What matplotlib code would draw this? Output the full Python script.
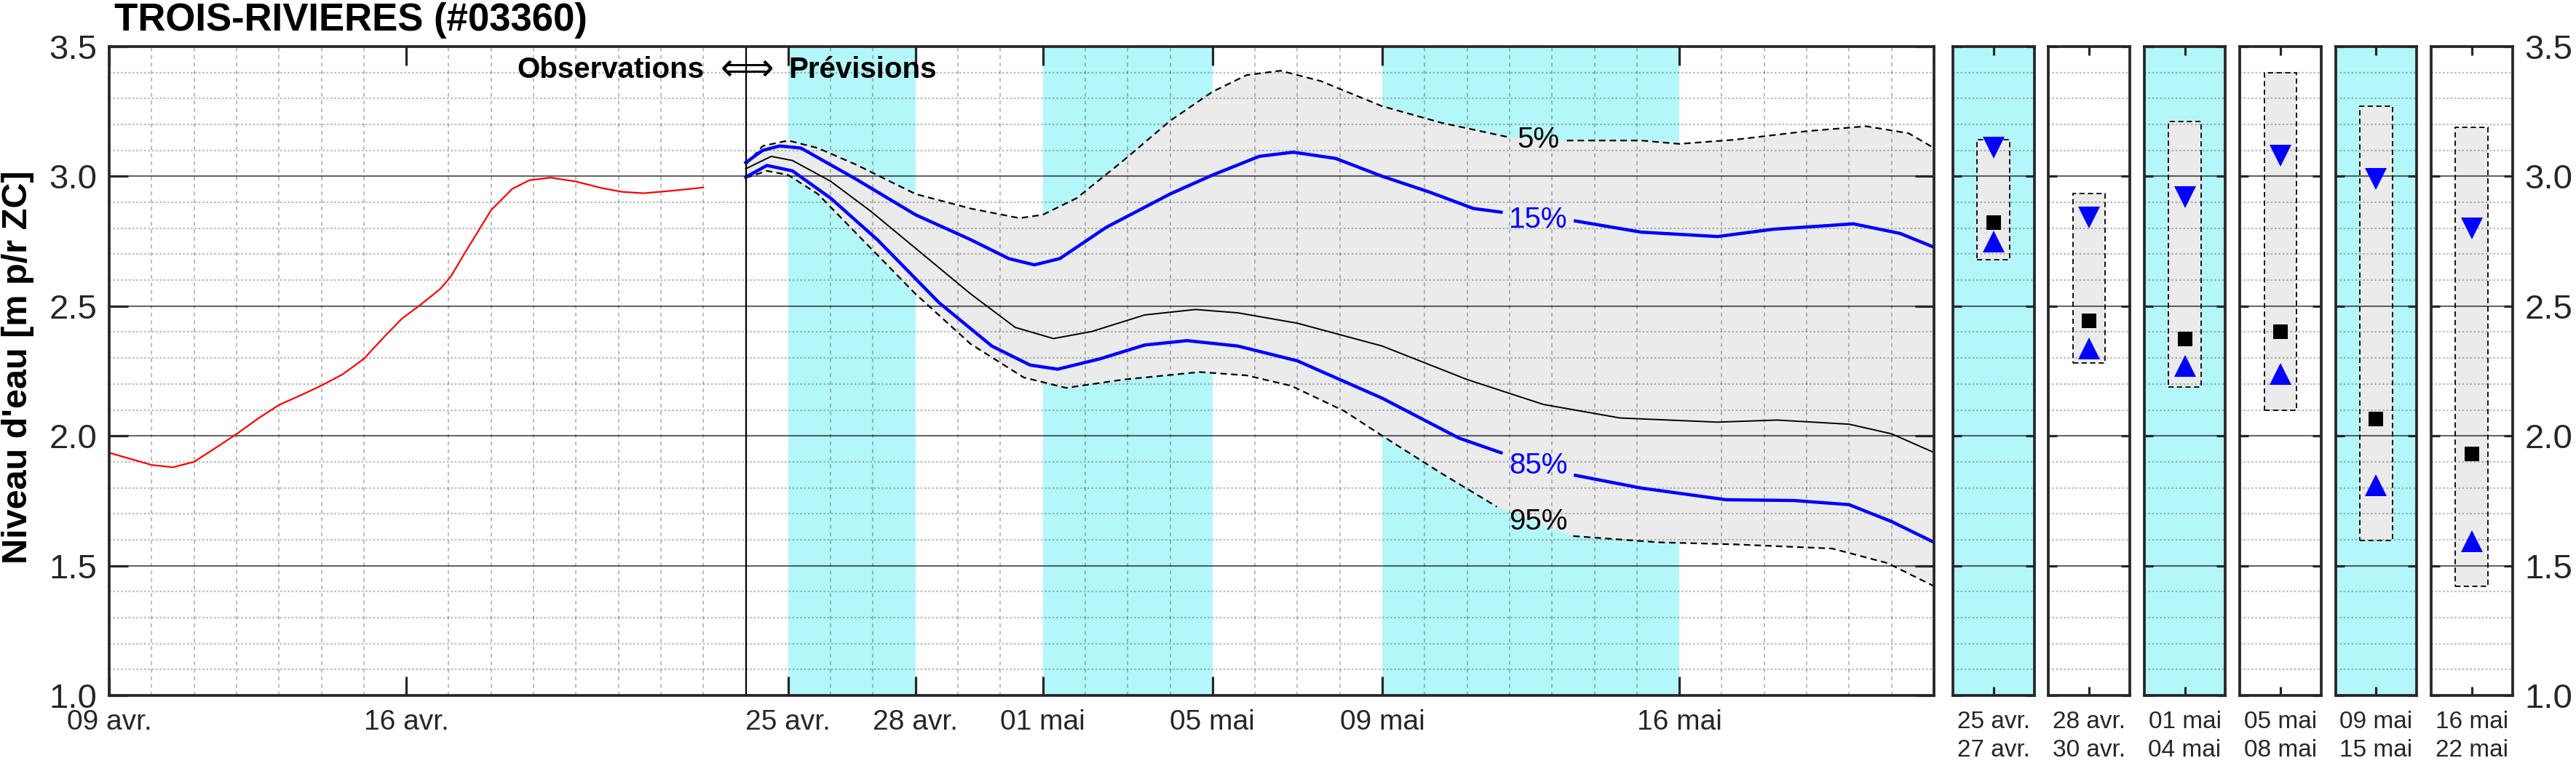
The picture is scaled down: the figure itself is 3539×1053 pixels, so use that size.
import numpy as np
import matplotlib
matplotlib.use("Agg")
import matplotlib.pyplot as plt
from matplotlib.ticker import MultipleLocator, FixedLocator, FormatStrFormatter

plt.rcParams['font.family'] = ['Liberation Sans', 'DejaVu Sans']

# days counted from 09 avr. (day 0) up to 22 mai (day 43)
obs_day = [0, 1.0, 1.5, 2.0, 2.5, 3.0, 3.5, 4.0, 4.6, 5.0, 5.5, 6.0, 6.5, 6.9, 7.35,
           7.8, 8.05, 8.4, 9.0, 9.5, 9.9, 10.4, 11.0, 11.6, 12.1, 12.6, 13.3, 14.0]
obs_level = [1.935, 1.888, 1.879, 1.900, 1.953, 2.007, 2.066, 2.119, 2.163, 2.194, 2.237,
             2.297, 2.385, 2.452, 2.507, 2.566, 2.614, 2.710, 2.870, 2.952, 2.985, 2.995,
             2.980, 2.955, 2.940, 2.935, 2.945, 2.957]

fc05_day = [15.0, 15.4, 16.0, 16.7, 17.6, 19.0, 20.3, 21.45, 22.0, 22.8, 23.9, 25.0, 26.0,
            26.8, 27.6, 28.55, 30.0, 31.4, 33.0, 34.35, 36.1, 37.0, 38.3, 40.0, 41.4, 42.4, 43.0]
fc05 = [3.045, 3.117, 3.138, 3.109, 3.045, 2.932, 2.876, 2.839, 2.852, 2.916, 3.061, 3.214,
        3.326, 3.390, 3.407, 3.367, 3.270, 3.206, 3.150, 3.138, 3.138, 3.125, 3.141, 3.174,
        3.193, 3.166, 3.109]

fc15_day = [15.0, 15.4, 15.8, 16.3, 17.6, 19.0, 20.3, 21.2, 21.8, 22.4, 23.5, 25.0, 26.0,
            27.1, 27.9, 28.9, 30.0, 31.1, 32.15, 32.8, 34.55, 36.1, 37.9, 39.2, 41.1, 42.2, 43.0]
fc15 = [3.053, 3.100, 3.117, 3.109, 2.989, 2.852, 2.756, 2.683, 2.659, 2.683, 2.804, 2.932,
        3.005, 3.077, 3.093, 3.069, 3.000, 2.940, 2.876, 2.862, 2.828, 2.785, 2.768, 2.796,
        2.817, 2.780, 2.727]

fc50_day = [15.0, 15.6, 16.1, 17.0, 17.95, 19.0, 20.3, 21.35, 22.25, 23.15, 24.4, 25.6, 26.6,
            28.0, 30.0, 32.0, 33.8, 35.6, 37.9, 39.3, 41.0, 42.0, 43.0]
fc50 = [3.029, 3.077, 3.061, 2.981, 2.865, 2.723, 2.547, 2.418, 2.375, 2.402, 2.466, 2.487,
        2.474, 2.434, 2.346, 2.217, 2.121, 2.069, 2.053, 2.061, 2.045, 2.008, 1.936]

fc85_day = [15.0, 15.5, 16.1, 17.0, 18.1, 19.55, 20.8, 21.7, 22.35, 23.35, 24.4, 25.4, 26.6,
            28.0, 30.0, 31.8, 32.8, 34.55, 36.1, 38.1, 39.7, 41.0, 42.0, 43.0]
fc85 = [2.997, 3.042, 3.021, 2.916, 2.756, 2.514, 2.346, 2.273, 2.257, 2.297, 2.350, 2.367,
        2.346, 2.289, 2.145, 1.992, 1.935, 1.848, 1.799, 1.754, 1.751, 1.735, 1.670, 1.590]

fc95_day = [15.0, 15.5, 16.0, 16.7, 17.75, 19.0, 20.3, 21.55, 22.55, 23.9, 25.7, 26.8, 27.85,
            29.1, 30.0, 31.4, 32.7, 34.5, 36.5, 38.3, 40.6, 41.9, 43.0]
fc95 = [2.994, 3.021, 3.005, 2.932, 2.756, 2.547, 2.354, 2.225, 2.185, 2.217, 2.246, 2.233,
        2.193, 2.096, 2.000, 1.855, 1.727, 1.614, 1.590, 1.582, 1.566, 1.510, 1.421]

tick_days = [0, 7, 16, 19, 22, 26, 30, 37]
tick_labels = ['09 avr.', '16 avr.', '25 avr.', '28 avr.', '01 mai', '05 mai', '09 mai', '16 mai']
level_ticks = [1.0, 1.5, 2.0, 2.5, 3.0, 3.5]

week_start = [16, 19, 22, 26, 30, 37]
week_end = [19, 22, 26, 30, 37, 43]
week_labels = ['25 avr.\n27 avr.', '28 avr.\n30 avr.', '01 mai\n04 mai',
               '05 mai\n08 mai', '09 mai\n15 mai', '16 mai\n22 mai']
week_shaded = [True, False, True, False, True, False]
week_p05 = [3.14, 2.935, 3.21, 3.40, 3.27, 3.19]
week_p15 = [3.11, 2.84, 2.92, 3.08, 2.99, 2.80]
week_p50 = [2.822, 2.443, 2.374, 2.40, 2.065, 1.93]
week_p85 = [2.75, 2.338, 2.27, 2.24, 1.81, 1.594]
week_p95 = [2.679, 2.28, 2.188, 2.10, 1.598, 1.42]

CYAN = '#b3f7fa'
GREY = '#ebebeb'
AXC = '#262626'
W, H = 3539, 1053

fig = plt.figure(figsize=(W / 100, H / 100), dpi=100)
bottom = (H - 956) / H
height = (956 - 64) / H


def style_axes(ax, ticklen):
    for s in ax.spines.values():
        s.set_linewidth(2.7)
        s.set_color(AXC)
        s.set_zorder(5)
    ax.set_ylim(1.0, 3.5)
    ax.yaxis.set_major_locator(FixedLocator(level_ticks))
    ax.yaxis.set_major_formatter(FormatStrFormatter('%.1f'))
    ax.yaxis.set_minor_locator(MultipleLocator(0.1))
    ax.set_axisbelow('line')
    ax.grid(which='major', axis='y', color='black', alpha=0.6, lw=1.5, ls='-')
    ax.grid(which='minor', axis='y', color='#1a1a1a', alpha=0.28, lw=1.6, ls=(0, (1.2, 1.2)))
    ax.tick_params(which='major', direction='in', length=ticklen, width=2.3, color=AXC,
                   labelcolor=AXC, top=True, bottom=True, left=True, right=True)
    ax.tick_params(which='minor', length=0)


# ---- main time series axes
ax = fig.add_axes([150 / W, bottom, (2657 - 150) / W, height])
style_axes(ax, 19)
ax.set_xlim(0, 43)
ax.xaxis.set_major_locator(FixedLocator(tick_days))
ax.set_xticklabels(tick_labels)
ax.xaxis.set_minor_locator(MultipleLocator(1))
ax.grid(which='minor', axis='x', color='#1a1a1a', alpha=0.28, lw=1.5, ls=(0, (2.5, 2.5)))
ax.tick_params(axis='x', labelsize=28, pad=14)
ax.tick_params(axis='y', labelsize=34, pad=12)

for s, e, sh in zip(week_start, week_end, week_shaded):
    if sh:
        ax.axvspan(s, e, color=CYAN, lw=0, zorder=0.5)

ax.fill(np.r_[fc05_day, fc95_day[::-1]], np.r_[fc05, fc95[::-1]], color=GREY, lw=0, zorder=1)

label_x = 33.68


def plot_gap(x, y, gap, **kw):
    x = np.asarray(x)
    y = np.asarray(y)
    for m in (x <= gap[0], x >= gap[1]):
        ax.plot(x[m], y[m], **kw)


dash = (0, (4, 2.6))
plot_gap(fc05_day, fc05, (33.0, 34.35), color='black', lw=1.6, ls=dash, zorder=3)
plot_gap(fc95_day, fc95, (32.7, 34.5), color='black', lw=1.6, ls=dash, zorder=3)
plot_gap(fc15_day, fc15, (32.8, 34.55), color='#0000ff', lw=3.2, zorder=3)
plot_gap(fc85_day, fc85, (32.8, 34.55), color='#0000ff', lw=3.2, zorder=3)
ax.plot(fc50_day, fc50, color='black', lw=1.4, zorder=3)
ax.plot(obs_day, obs_level, color='#ff0000', lw=1.6, zorder=3)

ax.text(label_x, 3.142, '5%', fontsize=29, color='black', ha='center', va='center', zorder=4)
ax.text(label_x, 2.834, '15%', fontsize=29, color='#0000ff', ha='center', va='center', zorder=4)
ax.text(label_x, 1.887, '85%', fontsize=29, color='#0000ff', ha='center', va='center', zorder=4)
ax.text(label_x, 1.670, '95%', fontsize=29, color='black', ha='center', va='center', zorder=4)

ax.axvline(15, color='black', lw=1.6, zorder=4)
ax.text(14.03, 3.379, 'Observations', fontsize=29, fontweight='bold', ha='right', va='baseline')
ax.text(15.03, 3.372, '\u27fa', fontsize=37, family='DejaVu Sans', ha='center', va='baseline')
ax.text(16.0, 3.379, 'Prévisions', fontsize=29, fontweight='bold', ha='left', va='baseline')

# ---- weekly summary panels
for i in range(6):
    pa = fig.add_axes([(2683 + i * 131.4) / W, bottom, 111.5 / W, height])
    style_axes(pa, 8.5)
    pa.set_xlim(0, 1)
    pa.set_facecolor(CYAN if week_shaded[i] else 'white')
    pa.set_xticks([0.5])
    pa.set_xticklabels([week_labels[i]], fontsize=24, linespacing=1.35)
    pa.tick_params(axis='x', pad=15)
    pa.tick_params(axis='y', labelleft=False, labelright=(i == 5), labelsize=34, pad=12)
    pa.bar(0.5, week_p05[i] - week_p95[i], bottom=week_p95[i], width=0.4, color=GREY,
           edgecolor='black', lw=1.3, ls=(0, (4, 2.5)), zorder=1)
    pa.plot(0.5, week_p15[i], 'v', color='#0000ff', ms=21, mew=0, zorder=4)
    pa.plot(0.5, week_p85[i], '^', color='#0000ff', ms=21, mew=0, zorder=4)
    pa.plot(0.5, week_p50[i], 's', color='black', ms=15, mew=0, zorder=4)

fig.text(157 / W, 1 - 42 / H, 'TROIS-RIVIERES (#03360)', fontsize=38, fontweight='bold',
         ha='left', va='baseline')
fig.text(25 / W, 1 - 505 / H, "Niveau d'eau [m p/r ZC]", fontsize=35, fontweight='bold',
         rotation=90, ha='center', va='center')

fig.savefig('out.png', dpi=100)
